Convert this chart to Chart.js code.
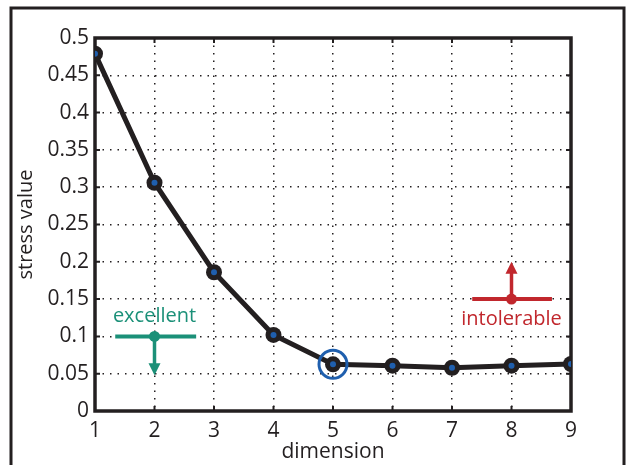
<!DOCTYPE html>
<html>
<head>
<meta charset="utf-8">
<script src="https://cdn.jsdelivr.net/npm/chart.js@4.4.1/dist/chart.umd.min.js"></script>
<style>
  html, body { margin: 0; padding: 0; background: #fff; }
  #wrap { width: 629px; height: 465px; position: relative; }
</style>
</head>
<body>
<div id="wrap"><canvas id="c" width="629" height="465"></canvas></div>
<script>
// data
const dimensions = [1, 2, 3, 4, 5, 6, 7, 8, 9];
const stress = [0.479, 0.306, 0.186, 0.102, 0.0626, 0.0607, 0.058, 0.0607, 0.063];
const chosenDim = 5;

// threshold markers: [label, x, y, lineFrom, lineTo, arrowEnd]
const markerLabels = ['excellent', 'intolerable'];
const markerX = [2, 8];
const markerY = [0.1, 0.15];
const markerFrom = [1.34, 7.34];
const markerTo = [2.7, 8.68];
const markerArrowEnd = [0.048, 0.2];
const markerColors = ['#1b9078', '#c1272d'];

const ink = '#231f20';
const dotBlue = '#1f5fae';
const FONT = '"Open Sans", "Noto Sans", sans-serif';

const frame = {
  id: 'frame',
  beforeDraw(chart) {
    const ctx = chart.ctx;
    ctx.save();
    ctx.strokeStyle = ink;
    ctx.lineWidth = 3;
    ctx.beginPath();
    ctx.moveTo(11, 470);
    ctx.lineTo(11, 8);
    ctx.lineTo(624, 8);
    ctx.lineTo(624, 470);
    ctx.stroke();
    ctx.restore();
  },
  beforeDatasetsDraw(chart) {
    const { ctx, chartArea: a, scales: { x, y } } = chart;
    ctx.save();
    // inward ticks on all four sides
    ctx.strokeStyle = ink;
    ctx.lineWidth = 2;
    ctx.beginPath();
    x.ticks.forEach(t => {
      const px = x.getPixelForValue(t.value);
      ctx.moveTo(px, a.bottom); ctx.lineTo(px, a.bottom - 5);
      ctx.moveTo(px, a.top); ctx.lineTo(px, a.top + 5);
    });
    y.ticks.forEach(t => {
      const py = y.getPixelForValue(t.value);
      ctx.moveTo(a.left, py); ctx.lineTo(a.left + 5, py);
      ctx.moveTo(a.right, py); ctx.lineTo(a.right - 5, py);
    });
    ctx.stroke();
    // box
    ctx.lineWidth = 3.5;
    ctx.strokeRect(a.left, a.top, a.right - a.left, a.bottom - a.top);

    // threshold markers
    markerLabels.forEach((lab, i) => {
      const c = markerColors[i];
      const cx = x.getPixelForValue(markerX[i]);
      const cy = y.getPixelForValue(markerY[i]);
      const ey = y.getPixelForValue(markerArrowEnd[i]);
      const dir = ey > cy ? 1 : -1;
      ctx.strokeStyle = c;
      ctx.fillStyle = c;
      ctx.lineWidth = 4;
      ctx.beginPath();
      ctx.moveTo(x.getPixelForValue(markerFrom[i]), cy);
      ctx.lineTo(x.getPixelForValue(markerTo[i]), cy);
      ctx.stroke();
      ctx.lineWidth = 3.5;
      ctx.beginPath();
      ctx.moveTo(cx, cy);
      ctx.lineTo(cx, ey - dir * 10);
      ctx.stroke();
      ctx.beginPath();
      ctx.moveTo(cx - 6, ey - dir * 12);
      ctx.lineTo(cx + 6, ey - dir * 12);
      ctx.lineTo(cx, ey);
      ctx.closePath();
      ctx.fill();
      ctx.beginPath();
      ctx.arc(cx, cy, 5.5, 0, Math.PI * 2);
      ctx.fill();
      ctx.font = '20px ' + FONT;
      ctx.textAlign = 'center';
      ctx.textBaseline = 'middle';
      ctx.fillText(lab, cx, cy - dir * 20);
    });
    ctx.restore();
  }
};

const trim = v => String(Number(v.toFixed(2)));

new Chart(document.getElementById('c'), {
  type: 'line',
  data: {
    datasets: [
      {
        data: dimensions.map((d, i) => ({ x: d, y: stress[i] })),
        order: 3,
        borderColor: ink,
        borderWidth: 5,
        pointRadius: 8,
        pointBackgroundColor: ink,
        pointBorderWidth: 0,
        tension: 0
      },
      {
        data: dimensions.filter(d => d === chosenDim).map(d => ({ x: d, y: stress[dimensions.indexOf(d)] })),
        order: 2,
        showLine: false,
        pointRadius: 14,
        pointBackgroundColor: 'rgba(0,0,0,0)',
        pointBorderColor: dotBlue,
        pointBorderWidth: 3
      },
      {
        data: dimensions.map((d, i) => ({ x: d, y: stress[i] })),
        order: 1,
        showLine: false,
        pointRadius: 3,
        pointBackgroundColor: dotBlue,
        pointBorderWidth: 0
      }
    ]
  },
  options: {
    responsive: false,
    animation: false,
    events: [],
    layout: { padding: { left: 0, top: 38, right: 58, bottom: 0 } },
    plugins: { legend: { display: false }, tooltip: { enabled: false } },
    scales: {
      x: {
        type: 'linear',
        min: 1, max: 9,
        afterFit(s) { s.height = 54; },
        ticks: { stepSize: 1, color: ink, padding: 7, font: { family: FONT, size: 21 } },
        grid: { color: ink, lineWidth: 1.5, drawTicks: false },
        border: { display: false, dash: [1.5, 6] },
        title: { display: true, text: 'dimension', color: ink, padding: 0, font: { family: FONT, size: 21 } }
      },
      y: {
        min: 0, max: 0.5,
        afterFit(s) { s.width = 95; },
        ticks: { stepSize: 0.05, color: ink, padding: 6, font: { family: FONT, size: 21 }, callback: trim },
        grid: { color: ink, lineWidth: 1.5, drawTicks: false },
        border: { display: false, dash: [1.5, 6] },
        title: { display: true, text: 'stress value', color: ink, padding: { top: 14, bottom: 0 }, font: { family: FONT, size: 20 } }
      }
    }
  },
  plugins: [frame]
});
</script>
</body>
</html>
